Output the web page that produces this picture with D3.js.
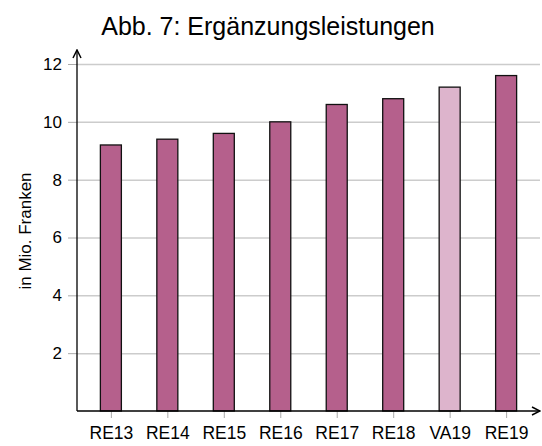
<!DOCTYPE html>
<html>
<head>
<meta charset="utf-8">
<script src="https://cdn.jsdelivr.net/npm/d3@7"></script>
<style>
body { margin: 0; background: #fff; }
text { font-family: "Liberation Sans", Arial, sans-serif; fill: #000; }
</style>
</head>
<body>
<svg id="chart" width="542" height="446"></svg>
<script>
// data
var categories = ['RE13', 'RE14', 'RE15', 'RE16', 'RE17', 'RE18', 'VA19', 'RE19'];
var values = [9.2, 9.4, 9.6, 10.0, 10.6, 10.8, 11.2, 11.6];
var budgetCats = ['VA19'];
var yTicks = [2, 4, 6, 8, 10, 12];

var svg = d3.select('#chart');

var plot = {l: 77, r: 540, t: 50, b: 411};

var xScale = d3.scalePoint().domain(categories).range([plot.l, plot.r]).padding(0.6);
var yScale = d3.scaleLinear().domain([0, 12]).range([plot.b, 64]);
var barWidth = 21;

// grid lines + left ticks
var yG = svg.append('g').attr('transform', 'translate(' + plot.l + ',0)')
    .call(d3.axisLeft(yScale).tickValues(yTicks).tickSize(9).tickPadding(6));
yG.select('.domain').remove();
yG.selectAll('.tick line').attr('stroke', '#aaa');
yG.selectAll('.tick text').style('font-size', '17px');
yG.selectAll('.tick').append('line')
    .attr('x1', 0).attr('x2', plot.r - plot.l)
    .attr('stroke', '#ccc').attr('stroke-width', 1.5);

// bottom axis (labels and small ticks)
var xG = svg.append('g').attr('transform', 'translate(0,' + plot.b + ')')
    .call(d3.axisBottom(xScale).tickSize(7).tickPadding(9));
xG.select('.domain').remove();
xG.selectAll('.tick line').attr('stroke', '#aaa');
xG.selectAll('.tick text').style('font-size', '17.5px');

// bars
svg.append('g').selectAll('rect')
    .data(categories)
    .join('rect')
    .attr('x', function(d) { return xScale(d) - barWidth / 2; })
    .attr('y', function(d, i) { return yScale(values[i]); })
    .attr('width', barWidth)
    .attr('height', function(d, i) { return yScale(0) - yScale(values[i]); })
    .attr('fill', function(d) { return budgetCats.includes(d) ? '#ddb4cc' : '#b5608c'; })
    .attr('stroke', '#111')
    .attr('stroke-width', 1.3);

// axis lines with arrows
var defs = svg.append('defs');
defs.append('marker')
    .attr('id', 'arrow')
    .attr('viewBox', '0 0 10 10')
    .attr('refX', 9).attr('refY', 5)
    .attr('markerWidth', 10).attr('markerHeight', 10)
    .attr('markerUnits', 'userSpaceOnUse')
    .attr('orient', 'auto')
    .append('path')
    .attr('d', 'M1,1 L9,5 L1,9')
    .attr('fill', 'none')
    .attr('stroke', '#000')
    .attr('stroke-width', 1.5);

svg.append('line')
    .attr('x1', plot.l).attr('y1', plot.b).attr('x2', plot.r).attr('y2', plot.b)
    .attr('stroke', '#000').attr('stroke-width', 1.3)
    .attr('marker-end', 'url(#arrow)');
svg.append('line')
    .attr('x1', plot.l).attr('y1', plot.b).attr('x2', plot.l).attr('y2', plot.t)
    .attr('stroke', '#000').attr('stroke-width', 1.3)
    .attr('marker-end', 'url(#arrow)');

// title and y label
svg.append('text')
    .text('Abb. 7: Ergänzungsleistungen')
    .attr('x', 268).attr('y', 35)
    .attr('text-anchor', 'middle')
    .style('font-size', '25px');

svg.append('text')
    .text('in Mio. Franken')
    .attr('transform', 'translate(31,231) rotate(-90)')
    .attr('text-anchor', 'middle')
    .style('font-size', '17px');
</script>
</body>
</html>
